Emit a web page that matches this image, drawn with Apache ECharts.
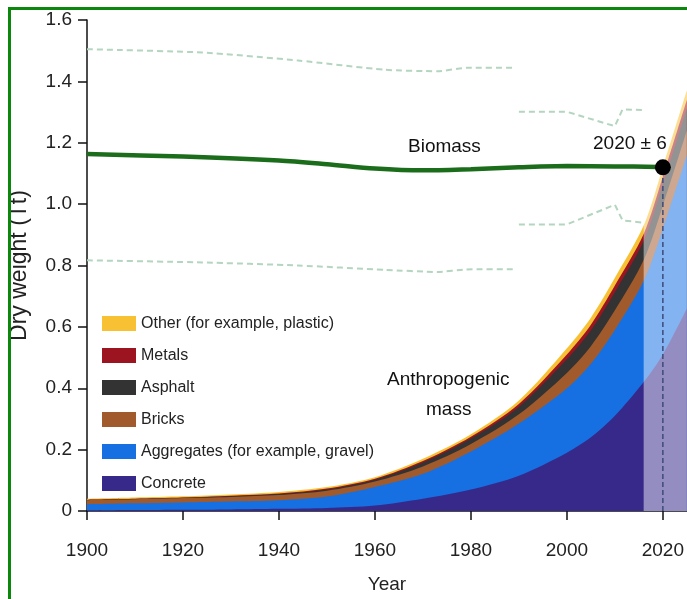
<!DOCTYPE html>
<html>
<head>
<meta charset="utf-8">
<script src="https://cdn.jsdelivr.net/npm/echarts@6/dist/echarts.min.js"></script>
<style>
  html, body { margin: 0; padding: 0; background: #fff; }
  #main { width: 687px; height: 599px; }
  /* green frame of the original screenshot */
  .frame {
    position: absolute; left: 8px; top: 7px; width: 700px; height: 620px;
    border-left: 3px solid #0b870b; border-top: 3px solid #0b870b;
    pointer-events: none;
  }
</style>
</head>
<body>
<div id="main"></div>
<div class="frame"></div>
<script>
// anthropogenic mass, Tt per layer
var years = [1900, 1910, 1920, 1930, 1940, 1950, 1960, 1970, 1980, 1990, 2000, 2005, 2010, 2016, 2020, 2025];
var concrete = [0.002, 0.003, 0.004, 0.005, 0.007, 0.010, 0.018, 0.040, 0.070, 0.115, 0.190, 0.240, 0.310, 0.420, 0.510, 0.660];
var aggregates = [0.020, 0.022, 0.024, 0.026, 0.028, 0.037, 0.060, 0.081, 0.124, 0.170, 0.210, 0.240, 0.280, 0.330, 0.410, 0.500];
var bricks = [0.013, 0.013, 0.014, 0.015, 0.017, 0.019, 0.018, 0.024, 0.024, 0.030, 0.050, 0.057, 0.064, 0.068, 0.075, 0.080];
var asphalt = [0.001, 0.001, 0.001, 0.002, 0.003, 0.004, 0.006, 0.013, 0.018, 0.025, 0.045, 0.052, 0.060, 0.063, 0.070, 0.072];
var metals = [0.001, 0.001, 0.001, 0.002, 0.002, 0.003, 0.003, 0.005, 0.006, 0.009, 0.015, 0.018, 0.021, 0.022, 0.025, 0.027];
var other = [0.003, 0.004, 0.004, 0.004, 0.005, 0.005, 0.005, 0.007, 0.008, 0.011, 0.020, 0.023, 0.025, 0.027, 0.030, 0.031];

// biomass
var bioYears = [1900, 1920, 1940, 1950, 1960, 1970, 1980, 1990, 2000, 2010, 2019];
var biomass = [1.163, 1.155, 1.142, 1.130, 1.116, 1.110, 1.114, 1.120, 1.124, 1.123, 1.121];
var bandYears = [1900, 1924, 1944, 1962, 1973, 1979, 1989];
var bioUpper = [1.505, 1.494, 1.468, 1.438, 1.433, 1.444, 1.444];
var bioLower = [0.817, 0.810, 0.800, 0.786, 0.779, 0.787, 0.788];
var projYears = [1990, 2000, 2010, 2011.6, 2016.3];
var projUpper = [1.301, 1.301, 1.254, 1.309, 1.306];
var projLower = [0.934, 0.934, 0.998, 0.947, 0.939];

var crossYear = 2020;
var crossValue = 1.12;
var projStart = 2016;
var xTicks = [1900, 1920, 1940, 1960, 1980, 2000, 2020];

// layers bottom -> top
var layers = [
  { name: "Concrete", values: concrete, color: "#36298a" },
  { name: "Aggregates (for example, gravel)", values: aggregates, color: "#1670e2" },
  { name: "Bricks", values: bricks, color: "#a15a2c" },
  { name: "Asphalt", values: asphalt, color: "#333333" },
  { name: "Metals", values: metals, color: "#9c1420" },
  { name: "Other (for example, plastic)", values: other, color: "#f7c133" },
];

function pairs(xs, ys) {
  return xs.map(function (x, i) { return [x, ys[i]]; });
}

// running totals, so every layer is an area from 0 up to its cumulative top
var running = years.map(function () { return 0; });
layers.forEach(function (l) {
  running = running.map(function (r, i) { return r + l.values[i]; });
  l.cum = running.slice();
});

var font = "'Liberation Sans', Arial, sans-serif";
var chart = echarts.init(document.getElementById("main"));

// draw the top layer first so the lower ones lie over it
var areaSeries = layers.slice().reverse().map(function (l, k) {
  var s = {
    name: l.name,
    type: "line",
    smooth: 0.3,
    showSymbol: false,
    symbol: "none",
    z: 2,
    lineStyle: { width: 0 },
    areaStyle: { color: l.color, opacity: 1 },
    itemStyle: { color: l.color },
    data: pairs(years, l.cum),
  };
  if (k === layers.length - 1) {
    s.markArea = {
      silent: true,
      z: 3,
      itemStyle: { color: "rgba(255,255,255,0.47)" },
      data: [[{ xAxis: projStart }, { xAxis: 2025 }]],
    };
  }
  return s;
});

var dashed = { color: "#b4d5bf", width: 2, type: [6, 4] };

chart.setOption({
  animation: false,
  grid: { left: 87, right: 0, top: 20, bottom: 85 },
  legend: {
    data: layers.map(function (l) { return l.name; }).reverse(),
    orient: "vertical",
    left: 102,
    top: 315,
    padding: 0,
    itemWidth: 34,
    itemHeight: 15,
    itemGap: 15,
    icon: "rect",
    textStyle: { fontFamily: font, fontSize: 16, color: "#222", lineHeight: 17 },
  },
  xAxis: {
    type: "value",
    min: 1900,
    max: 2025,
    interval: 20,
    name: "Year",
    nameLocation: "middle",
    nameGap: 64,
    nameTextStyle: { fontFamily: font, fontSize: 19, color: "#222" },
    splitLine: { show: false },
    axisLine: { lineStyle: { color: "#111", width: 1.5 } },
    axisTick: { length: 9, customValues: xTicks, lineStyle: { color: "#111", width: 1.5 } },
    axisLabel: {
      customValues: xTicks,
      margin: 30,
      fontFamily: font,
      fontSize: 19,
      color: "#222",
      formatter: function (v) { return String(v); },
    },
  },
  yAxis: {
    type: "value",
    min: 0,
    max: 1.6,
    interval: 0.2,
    name: "Dry weight (Tt)",
    nameLocation: "middle",
    nameGap: 56,
    nameTextStyle: { fontFamily: font, fontSize: 23, color: "#222" },
    splitLine: { show: false },
    axisLine: { show: true, lineStyle: { color: "#111", width: 1.5 } },
    axisTick: { show: true, length: 9, lineStyle: { color: "#111", width: 1.5 } },
    axisLabel: {
      margin: 15,
      fontFamily: font,
      fontSize: 19,
      color: "#222",
      formatter: function (v) { return v === 0 ? "0" : v.toFixed(1); },
    },
  },
  graphic: [
    { type: "text", left: 408, top: 137, style: { text: "Biomass", font: "19px " + font, fill: "#111" } },
    { type: "text", left: 387, top: 370, style: { text: "Anthropogenic", font: "19px " + font, fill: "#111" } },
    { type: "text", left: 426, top: 400, style: { text: "mass", font: "19px " + font, fill: "#111" } },
  ],
  series: areaSeries.concat([
    { type: "line", data: pairs(bandYears, bioUpper), showSymbol: false, symbol: "none", smooth: 0.2, lineStyle: dashed, z: 4 },
    { type: "line", data: pairs(bandYears, bioLower), showSymbol: false, symbol: "none", smooth: 0.2, lineStyle: dashed, z: 4 },
    { type: "line", data: pairs(projYears, projUpper), showSymbol: false, symbol: "none", lineStyle: dashed, z: 4 },
    { type: "line", data: pairs(projYears, projLower), showSymbol: false, symbol: "none", lineStyle: dashed, z: 4 },
    {
      name: "Biomass",
      type: "line",
      data: pairs(bioYears, biomass),
      showSymbol: false,
      symbol: "none",
      smooth: 0.3,
      z: 5,
      lineStyle: { color: "#1b6d1b", width: 4.5 },
    },
    {
      type: "line",
      data: [[crossYear, 0], [crossYear, crossValue]],
      showSymbol: false,
      symbol: "none",
      z: 5,
      lineStyle: { color: "#3d4a78", width: 1.5, type: [5, 3] },
    },
    {
      type: "scatter",
      data: [[crossYear, crossValue]],
      symbolSize: 16,
      z: 6,
      itemStyle: { color: "#000", opacity: 1 },
      label: {
        show: true,
        position: "top",
        align: "right",
        distance: 6,
        offset: [4, 0],
        formatter: "2020 \u00b1 6",
        fontFamily: font,
        fontSize: 19,
        color: "#111",
        textBorderWidth: 0,
      },
    },
  ]),
});
</script>
</body>
</html>
